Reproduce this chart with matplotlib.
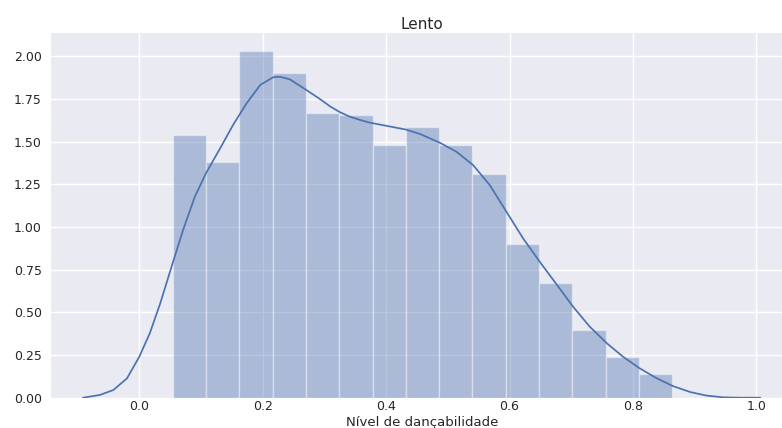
import matplotlib
matplotlib.use("Agg")
import matplotlib.pyplot as plt
import numpy as np

# ---- data ----
bin_edges = [0.054, 0.108, 0.162, 0.216, 0.270, 0.324, 0.378, 0.432,
             0.486, 0.540, 0.594, 0.648, 0.702, 0.756, 0.810, 0.864]
bin_heights = [1.538, 1.378, 2.032, 1.903, 1.669, 1.653, 1.480, 1.583,
               1.480, 1.308, 0.902, 0.673, 0.398, 0.237, 0.139]

kde_x = [-0.091, -0.064, -0.042, -0.020, 0.0, 0.017, 0.034, 0.054, 0.071,
         0.090, 0.108, 0.131, 0.152, 0.174, 0.196, 0.217, 0.228, 0.244,
         0.271, 0.293, 0.309, 0.324, 0.340, 0.358, 0.374, 0.406, 0.432, 0.455,
         0.487, 0.514, 0.541, 0.568, 0.595, 0.622, 0.649, 0.677, 0.703,
         0.730, 0.758, 0.784, 0.811, 0.839, 0.865, 0.893, 0.920, 0.947,
         0.975, 1.006]
kde_y = [0.0, 0.016, 0.045, 0.113, 0.240, 0.377, 0.553, 0.787, 0.982,
         1.177, 1.314, 1.460, 1.597, 1.724, 1.831, 1.876, 1.879, 1.864,
         1.801, 1.748, 1.706, 1.674, 1.647, 1.626, 1.610, 1.588, 1.570, 1.544,
         1.493, 1.440, 1.362, 1.245, 1.089, 0.933, 0.796, 0.660, 0.533,
         0.416, 0.318, 0.240, 0.172, 0.113, 0.068, 0.033, 0.012, 0.002,
         0.0, 0.0]

x_ticks = [0.0, 0.2, 0.4, 0.6, 0.8, 1.0]
y_ticks = [0.00, 0.25, 0.50, 0.75, 1.00, 1.25, 1.50, 1.75, 2.00]
title = "Lento"
xlabel = "Nível de dançabilidade"

# ---- style ----
blue = "#4C72B0"
plt.rcParams["font.family"] = ["DejaVu Sans"]

W, H = 782, 428
fig = plt.figure(figsize=(W / 100, H / 100), dpi=100)
left, right, top, bottom = 50.7, 794.0, 33.3, 397.7
ax = fig.add_axes([left / W, 1 - bottom / H, (right - left) / W, (bottom - top) / H])
ax.set_facecolor("#EAEAF2")
for s in ax.spines.values():
    s.set_visible(False)
ax.grid(True, color="white", linewidth=1.0)
ax.set_axisbelow(True)

edges = np.array(bin_edges)
ax.bar(edges[:-1], bin_heights, width=np.diff(edges), align="edge",
       color=blue, alpha=0.4, edgecolor="white", linewidth=1.0)
ax.plot(kde_x, kde_y, color=blue, linewidth=1.25, solid_joinstyle="round")

ax.set_xlim(-0.1436, (right - 139.3) / 617.0)
ax.set_ylim(0, 2.1335)
ax.set_xticks(x_ticks)
ax.set_xticklabels([f"{v:.1f}" for v in x_ticks])
ax.set_yticks(y_ticks)
ax.set_yticklabels([f"{v:.2f}" for v in y_ticks])
ax.tick_params(axis="both", length=0, labelsize=9, colors="#262626")
ax.tick_params(axis="y", pad=6.5)
ax.tick_params(axis="x", pad=2.0)

ax.set_title(title, fontsize=11, color="#262626", pad=3)
lab = ax.set_xlabel(xlabel, fontsize=9.5, color="#262626")
ax.xaxis.set_label_coords(0.5, (bottom - 425.8) / (bottom - top))
lab.set_verticalalignment("baseline")

fig.savefig("out.png", dpi=100)
